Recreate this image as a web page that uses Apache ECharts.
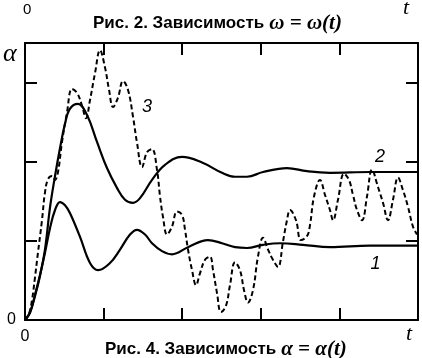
<!DOCTYPE html>
<html>
<head>
<meta charset="utf-8">
<script src="https://cdn.jsdelivr.net/npm/echarts@6/dist/echarts.min.js"></script>
<style>
  html, body { margin: 0; padding: 0; background: #fff; }
  #chart { width: 422px; height: 358px; }
</style>
</head>
<body>
<div id="chart"></div>
<script>
// curve 1 (lower solid)
const curve1 = [
  [0, 0], [0.064, 0.09], [0.127, 0.32], [0.191, 0.57], [0.254, 0.85], [0.318, 1.16],
  [0.382, 1.39], [0.445, 1.49], [0.509, 1.45], [0.573, 1.35], [0.70, 1.05], [0.827, 0.72],
  [0.929, 0.63], [1.081, 0.72], [1.209, 0.89], [1.336, 1.08], [1.425, 1.14], [1.527, 1.08],
  [1.616, 0.97], [1.743, 0.87], [1.87, 0.83], [2.074, 0.92], [2.328, 1.01], [2.506, 0.97],
  [2.672, 0.92], [2.824, 0.91], [3.028, 0.95], [3.244, 0.97], [3.537, 0.95], [3.88, 0.92],
  [4.389, 0.94], [5.0, 0.94]
];
// curve 2 (upper solid)
const curve2 = [
  [0, 0], [0.064, 0.10], [0.127, 0.30], [0.191, 0.56], [0.254, 0.89], [0.318, 1.42],
  [0.382, 1.82], [0.445, 2.17], [0.509, 2.48], [0.573, 2.67], [0.674, 2.73], [0.789, 2.59],
  [0.916, 2.25], [1.043, 1.92], [1.17, 1.67], [1.272, 1.52], [1.374, 1.48], [1.463, 1.54],
  [1.616, 1.77], [1.781, 1.96], [1.997, 2.06], [2.252, 1.99], [2.506, 1.86], [2.672, 1.81],
  [2.824, 1.81], [3.028, 1.87], [3.333, 1.92], [3.588, 1.88], [3.88, 1.86], [4.389, 1.87],
  [5.0, 1.87]
];
// curve 3 (dashed)
const curve3 = [
  [0, 0], [0.051, 0.08], [0.089, 0.25], [0.127, 0.54], [0.165, 0.85], [0.216, 1.26],
  [0.254, 1.61], [0.293, 1.78], [0.344, 1.82], [0.382, 1.77], [0.42, 1.87], [0.471, 2.25],
  [0.534, 2.62], [0.598, 2.92], [0.662, 2.87], [0.725, 2.71], [0.776, 2.55], [0.827, 2.78],
  [0.891, 3.12], [0.954, 3.41], [1.018, 3.19], [1.069, 2.91], [1.12, 2.69], [1.183, 2.81],
  [1.247, 3.02], [1.31, 2.91], [1.374, 2.57], [1.425, 2.24], [1.489, 1.93], [1.552, 2.12],
  [1.616, 2.16], [1.679, 1.90], [1.718, 1.56], [1.756, 1.30], [1.807, 1.08], [1.87, 1.18],
  [1.934, 1.37], [1.997, 1.33], [2.036, 1.14], [2.074, 0.89], [2.125, 0.63], [2.176, 0.44],
  [2.226, 0.59], [2.29, 0.76], [2.354, 0.80], [2.392, 0.63], [2.443, 0.34], [2.494, 0.10],
  [2.557, 0.18], [2.608, 0.44], [2.672, 0.73], [2.735, 0.63], [2.786, 0.38], [2.837, 0.22],
  [2.901, 0.38], [2.964, 0.80], [3.028, 1.04], [3.092, 0.89], [3.155, 0.76], [3.219, 0.67],
  [3.282, 0.99], [3.333, 1.26], [3.372, 1.39], [3.448, 1.26], [3.511, 1.01], [3.588, 1.06],
  [3.626, 1.20], [3.677, 1.56], [3.753, 1.77], [3.817, 1.58], [3.88, 1.39], [3.919, 1.26],
  [3.982, 1.52], [4.059, 1.85], [4.122, 1.77], [4.173, 1.58], [4.224, 1.39], [4.288, 1.26],
  [4.351, 1.56], [4.415, 1.90], [4.491, 1.68], [4.555, 1.48], [4.618, 1.26], [4.682, 1.52],
  [4.746, 1.80], [4.809, 1.64], [4.873, 1.43], [4.936, 1.18], [4.987, 1.08]
];
// curve number labels: [t, value, text]
const curveLabels = [
  [1.552, 2.69, "3"],
  [4.517, 2.06, "2"],
  [4.46, 0.71, "1"]
];

const chart = echarts.init(document.getElementById("chart"));

const frameLine = { show: true, onZero: false, lineStyle: { color: "#000", width: 2 } };
const frameTick = { show: true, inside: true, length: 12, lineStyle: { color: "#000", width: 2 } };
const serif = "'Liberation Serif', 'DejaVu Serif', serif";
const sans = "'Liberation Sans', Arial, sans-serif";

const labelMark = (item) => ({
  coord: [item[0], item[1]],
  value: item[2],
  symbol: "rect",
  symbolSize: 1,
  itemStyle: { color: "transparent" },
  label: {
    show: true,
    position: "inside",
    formatter: item[2],
    color: "#000",
    fontFamily: sans,
    fontStyle: "italic",
    fontSize: 18,
  },
});

const captionRich = {
  a: { fontFamily: sans, fontWeight: "bold", fontSize: 17, color: "#000" },
  m: { fontFamily: serif, fontStyle: "italic", fontSize: 21, color: "#000" },
};

const option = {
  animation: false,
  backgroundColor: "#fff",
  grid: { left: 25, right: 4, top: 43, bottom: 38 },
  title: [
    {
      text: "{a|Рис. 2. Зависимость} {m|ω = ω(t)}",
      left: 88,
      top: 8,
      textStyle: { rich: captionRich },
    },
    {
      text: "{a|Рис. 4. Зависимость} {m|α = α(t)}",
      left: 100,
      top: 334,
      textStyle: { rich: captionRich },
    },
  ],
  graphic: [
    { type: "text", left: 23, top: 2, style: { text: "0", font: "15px " + sans, fill: "#000" } },
    { type: "text", left: 403, top: -3, style: { text: "t", font: "italic 22px " + serif, fill: "#000" } },
    { type: "text", left: 3, top: 41, style: { text: "α", font: "italic 26px " + serif, fill: "#000" } },
    { type: "text", left: 406, top: 323, style: { text: "t", font: "italic 22px " + serif, fill: "#000" } },
  ],
  xAxis: [
    {
      type: "value",
      position: "bottom",
      min: 0,
      max: 5,
      interval: 1,
      axisLine: frameLine,
      axisTick: frameTick,
      splitLine: { show: false },
      axisLabel: {
        margin: 9,
        color: "#000",
        fontFamily: sans,
        fontSize: 16,
        formatter: (v) => (v === 0 ? "0" : ""),
      },
    },
    {
      type: "value",
      position: "top",
      min: 0,
      max: 5,
      interval: 1,
      axisLine: frameLine,
      axisTick: frameTick,
      splitLine: { show: false },
      axisLabel: { show: false },
    },
  ],
  yAxis: [
    {
      type: "value",
      position: "left",
      min: 0,
      max: 3.5,
      interval: 1,
      axisLine: frameLine,
      axisTick: frameTick,
      splitLine: { show: false },
      axisLabel: {
        margin: 9,
        color: "#000",
        fontFamily: sans,
        fontSize: 16,
        formatter: (v) => (v === 0 ? "0" : ""),
      },
    },
    {
      type: "value",
      position: "right",
      min: 0,
      max: 3.5,
      interval: 1,
      axisLine: frameLine,
      axisTick: frameTick,
      splitLine: { show: false },
      axisLabel: { show: false },
    },
  ],
  series: [
    {
      name: "1",
      type: "line",
      data: curve1,
      smooth: 0.4,
      symbol: "none",
      lineStyle: { color: "#000", width: 2.2 },
      markPoint: { silent: true, data: [labelMark(curveLabels[2])] },
    },
    {
      name: "2",
      type: "line",
      data: curve2,
      smooth: 0.4,
      symbol: "none",
      lineStyle: { color: "#000", width: 2.2 },
      markPoint: { silent: true, data: [labelMark(curveLabels[1])] },
    },
    {
      name: "3",
      type: "line",
      data: curve3,
      smooth: 0.4,
      symbol: "none",
      lineStyle: { color: "#000", width: 2, type: [5, 3] },
      markPoint: { silent: true, data: [labelMark(curveLabels[0])] },
    },
  ],
};

chart.setOption(option);
</script>
</body>
</html>
